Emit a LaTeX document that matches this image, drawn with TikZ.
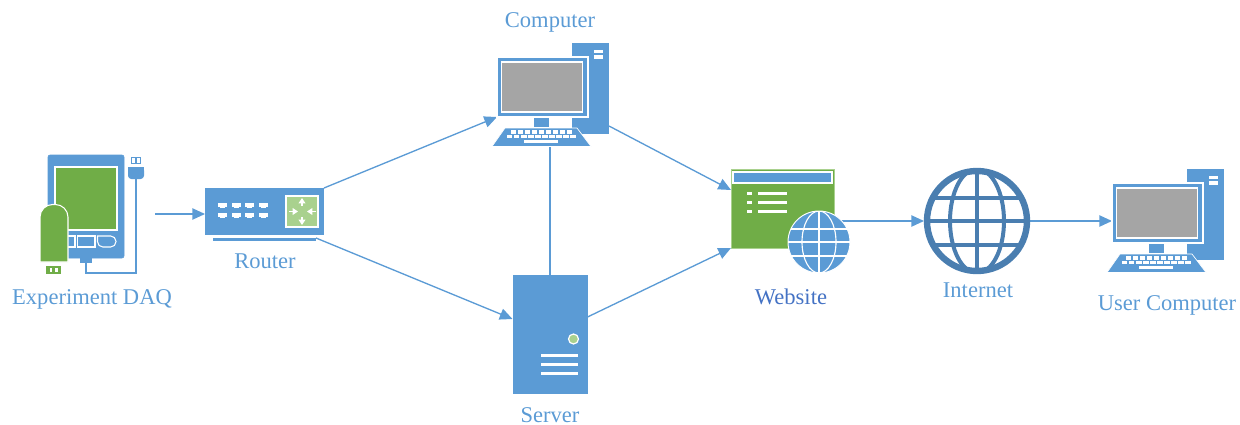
\documentclass[tikz,border=0pt]{standalone}
\usepackage{fontspec}
\setmainfont{Liberation Serif}
\usetikzlibrary{arrows.meta,calc}
\definecolor{iconblue}{HTML}{5B9BD5}
\definecolor{icongreen}{HTML}{70AD47}
\definecolor{palegreen}{HTML}{A9D18E}
\definecolor{screengrey}{HTML}{A5A5A5}
\definecolor{globeblue}{HTML}{4A7EB0}
\definecolor{webtext}{HTML}{4472C4}
\pgfdeclarelayer{bg}
\pgfsetlayers{bg,main}
\tikzset{
  bx/.style 2 args={rectangle,inner sep=0pt,outer sep=0pt,minimum width=#1*0.75pt,minimum height=#2*0.75pt},
  lbl/.style={text=iconblue,font=\fontsize{16.9}{20}\selectfont,inner sep=0pt},
  conn/.style={draw=iconblue,line width=1pt},
  arr/.style={conn,-{Triangle[length=9.5pt,width=8.5pt]}},
  pics/pcicon/.style={code={
    % tower
    \node[bx={37}{91},fill=iconblue] (-tower) at (93.5,31.5) {};
    \fill[white] (97,-7) rectangle (106,-4);
    \fill[white] (97,-2) rectangle (106,2);
    % monitor
    \node[bx={91}{60},fill=iconblue,draw=white,line width=0.8pt] (-mon) at (45.5,30) {};
    \node[bx={81}{50},fill=screengrey,draw=white,line width=0.9pt] (-scr) at (45,30) {};
    \fill[iconblue] (37,61) rectangle (52,70);
    % keyboard
    \node[bx={99}{18},draw=none] (-kb) at (45.5,80) {};
    \filldraw[fill=iconblue,draw=white,line width=0.5pt] (8,71) -- (80,71) -- (94,89.5) -- (-5,89.5) -- cycle;
    \foreach \k in {0,...,8} {\fill[white] ({13.5+\k*7},73.4) rectangle ({19+\k*7},76.6);}
    \foreach \k in {0,...,9} {\fill[white] ({9.5+\k*7.1},77.8) rectangle ({15.3+\k*7.1},81.2);}
    \fill[white] (27,83) rectangle (61,86);
    \coordinate (-out) at (112,69);
  }}
}
\begin{document}
\begin{tikzpicture}[x=0.75pt,y=-0.75pt]
\useasboundingbox (0,0) rectangle (1240,425);

% ---------- Experiment DAQ
\node[bx={115}{118}] (daq) at (97.5,214) {};
\filldraw[iconblue,rounded corners=1.5pt] (48,155) rectangle (124,258);
\node[bx={62}{63},fill=icongreen,draw=white,line width=0.8pt] (daqscreen) at (86,198.5) {};
\fill[iconblue] (80,258) rectangle (92,263);
\draw[iconblue,line width=1.4pt] (86,263) -- (86,273) -- (136,273) -- (136,178);
\path[fill=iconblue,rounded corners=2.5pt] (128,167) -- (128,179) -- (144,179) -- (144,167) [sharp corners] -- cycle;
\fill[iconblue] (128,167) rectangle (144,172);
\filldraw[fill=white,draw=iconblue,line width=0.7pt] (131.5,157.5) rectangle (140.5,163);
\draw[iconblue,line width=1pt] (136,157.5) -- (136,163);
\draw[white,line width=0.8pt] (66,236) rectangle (75,247);
\draw[white,line width=0.8pt] (77.5,236) rectangle (95,247);
\draw[white,line width=0.8pt,rounded corners=4pt] (97.5,236) -- (116,236) -- (116,247) -- (97.5,247) [sharp corners] -- cycle;
\path[fill=icongreen,draw=white,line width=0.8pt] (40,262) [rounded corners=9.5pt] -- (40,204.5) -- (68,204.5) [sharp corners] -- (68,262) -- cycle;
\fill[icongreen] (46,266) rectangle (61,274);
\fill[white] (49.5,268) rectangle (52,272);
\fill[white] (55,268) rectangle (57.5,272);
\node[lbl] (daqlabel) at (92,299) {Experiment DAQ};

% ---------- Router
\node[bx={119}{47},fill=iconblue] (router) at (264.5,211.5) {};
\node[bx={103}{3},fill=iconblue] (routerbase) at (264.5,239.5) {};
\foreach \px in {218,232,245,259} {
  \foreach \py in {203,213} {
    \fill[white] (\px,\py) rectangle (\px+9,\py+3.6);
    \fill[white] (\px+1.8,\py+3.6) rectangle (\px+7.2,\py+5.4);
  }
}
\node[bx={32}{31},fill=palegreen,draw=white,line width=0.8pt] (routerpad) at (302,211.5) {};
\tikzset{rta/.style={draw=white,line width=1pt,-{Triangle[length=4pt,width=5pt]}}}
\draw[rta] (302,206) -- (302,198);
\draw[rta] (302,217) -- (302,225);
\draw[rta] (289,211.5) -- (298,211.5);
\draw[rta] (316,211.5) -- (307,211.5);
\node[lbl] (routerlabel) at (265,261) {Router};

% ---------- Computer
\pic (comp) at (497,57) {pcicon};
\node[lbl] (complabel) at (550,22) {Computer};

% ---------- Server
\node[bx={75}{119},fill=iconblue] (server) at (550,334.5) {};
\node[circle,inner sep=0pt,minimum size=7.5pt,fill=palegreen,draw=white,line width=0.9pt] (serverled) at (573.5,339) {};
\foreach \ly in {355.5,364.5,373.5} {\fill[white] (541,\ly-1.5) rectangle (578,\ly+1.5);}
\coordinate (srvin) at (512.5,319);
\coordinate (srvout) at (587.5,317);
\node[lbl] (serverlabel) at (550,415) {Server};

% ---------- Website
\node[bx={103}{79},fill=icongreen,draw=palegreen,line width=0.5pt] (website) at (782.5,208.5) {};
\node[bx={99}{11},fill=iconblue,draw=white,line width=0.8pt] (webbar) at (782.5,177.5) {};
\foreach \ly in {193,202,211} {
  \fill[white] (747,\ly-1.5) rectangle (752,\ly+1.5);
  \fill[white] (758,\ly-1.5) rectangle (787,\ly+1.5);
}
\node[circle,inner sep=0pt,minimum size=46.5pt,fill=iconblue,draw=white,line width=0.7pt] (webglobe) at (819,242) {};
\begin{scope}
  \clip (819,242) circle [radius=31];
  \draw[white,line width=0.85pt] (819,211) -- (819,273);
  \draw[white,line width=0.85pt] (819,242) ellipse [x radius=17,y radius=31];
  \foreach \dy in {-13,0,14} {\draw[white,line width=0.85pt] (785,242+\dy) -- (853,242+\dy);}
\end{scope}
\coordinate (webin) at (731,190);
\node[text=webtext,font=\fontsize{16.9}{20}\selectfont,inner sep=0pt] (weblabel) at (791,297) {Website};

% ---------- Internet
\node[circle,inner sep=0pt,outer sep=2.25pt,minimum size=75pt,draw=globeblue,line width=4.8pt] (internet) at (977,221) {};
\begin{scope}
  \clip (977,221) circle [radius=51];
  \draw[globeblue,line width=3pt] (977,168) -- (977,274);
  \draw[globeblue,line width=3pt] (977,221) ellipse [x radius=27,y radius=52];
  \foreach \dy in {-23.5,0,23.5} {\draw[globeblue,line width=3pt] (920,221+\dy) -- (1034,221+\dy);}
\end{scope}
\node[lbl] (internetlabel) at (978,290) {Internet};

% ---------- User computer
\pic (user) at (1112,183) {pcicon};
\node[lbl] (userlabel) at (1167,305) {User Computer};

% ---------- Connectors
\begin{pgfonlayer}{bg}
\draw[arr] (daq.east) -- (daq.east -| router.west);
\draw[arr] (router.north east) -- (comp-mon.south west);
\draw[arr] (routerbase.north east) -- (srvin);
\draw[arr] (comp-out) -- (webin);
\draw[conn] (comp-kb.south -| server.north) -- (server.north);
\draw[arr] (srvout) -- (website.south west);
\draw[arr] (website.east |- internet.west) -- (internet.west);
\draw[arr] (internet.east) -- (internet.east -| user-mon.west);
\end{pgfonlayer}
\end{tikzpicture}
\end{document}
